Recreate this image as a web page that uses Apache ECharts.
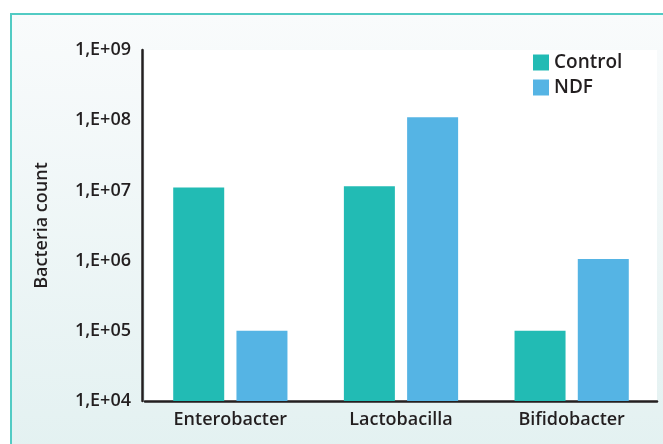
<!DOCTYPE html>
<html>
<head>
<meta charset="utf-8">
<script src="https://cdn.jsdelivr.net/npm/echarts@6/dist/echarts.min.js"></script>
<style>
  html, body { margin: 0; padding: 0; background: #ffffff; }
  #main { width: 663px; height: 444px; }
</style>
</head>
<body>
<div id="main"></div>
<script>
var categories = ['Enterobacter', 'Lactobacilla', 'Bifidobacter'];
var controlValues = [1.1e7, 1.15e7, 1.0e5];
var ndfValues = [1.0e5, 1.1e8, 1.05e6];
var yTickLabels = ['1,E+04', '1,E+05', '1,E+06', '1,E+07', '1,E+08', '1,E+09'];

var font = '"Open Sans", Lato, sans-serif';
var myChart = echarts.init(document.getElementById('main'));

var option = {
    animation: false,
    graphic: [{
        type: 'rect',
        silent: true,
        z: -10,
        shape: { x: 11, y: 14, width: 660, height: 440 },
        style: {
            fill: new echarts.graphic.LinearGradient(0, 0, 0, 1, [
                { offset: 0, color: '#f9fbfc' },
                { offset: 1, color: '#e3f1f1' }
            ]),
            stroke: '#52cbc4',
            lineWidth: 2
        }
    }],
    legend: {
        left: 528,
        top: 48,
        orient: 'vertical',
        itemWidth: 16,
        itemHeight: 16,
        itemGap: 6,
        icon: 'rect',
        textStyle: { fontFamily: font, fontSize: 19, fontWeight: 600, color: '#231f20' },
        data: ['Control', 'NDF']
    },
    grid: {
        left: 145,
        right: 6,
        top: 50,
        bottom: 43,
        show: true,
        backgroundColor: '#ffffff',
        borderWidth: 0
    },
    xAxis: {
        type: 'category',
        data: categories,
        axisLine: { lineStyle: { color: '#231f20', width: 2.5 } },
        axisTick: { show: false },
        axisLabel: { fontFamily: font, fontSize: 18, fontWeight: 600, color: '#231f20', margin: 10 }
    },
    yAxis: {
        type: 'log',
        logBase: 10,
        min: 1e4,
        max: 1e9,
        offset: 3,
        name: 'Bacteria count',
        nameLocation: 'middle',
        nameGap: 91,
        nameTextStyle: { fontFamily: font, fontSize: 18, fontWeight: 600, color: '#231f20' },
        axisLine: { show: true, lineStyle: { color: '#231f20', width: 2.5 } },
        axisTick: { show: false },
        splitLine: { show: false },
        axisLabel: {
            fontFamily: font,
            fontSize: 18,
            fontWeight: 600,
            color: '#231f20',
            margin: 11,
            formatter: function (v) {
                var e = Math.round(Math.log10(v));
                return yTickLabels[e - 4];
            }
        }
    },
    series: [{
        name: 'Control',
        type: 'bar',
        data: controlValues,
        barWidth: 51,
        barGap: '24%',
        itemStyle: { color: '#22bbb4' }
    }, {
        name: 'NDF',
        type: 'bar',
        data: ndfValues,
        barWidth: 51,
        itemStyle: { color: '#55b4e4' }
    }]
};

myChart.setOption(option);
</script>
</body>
</html>
